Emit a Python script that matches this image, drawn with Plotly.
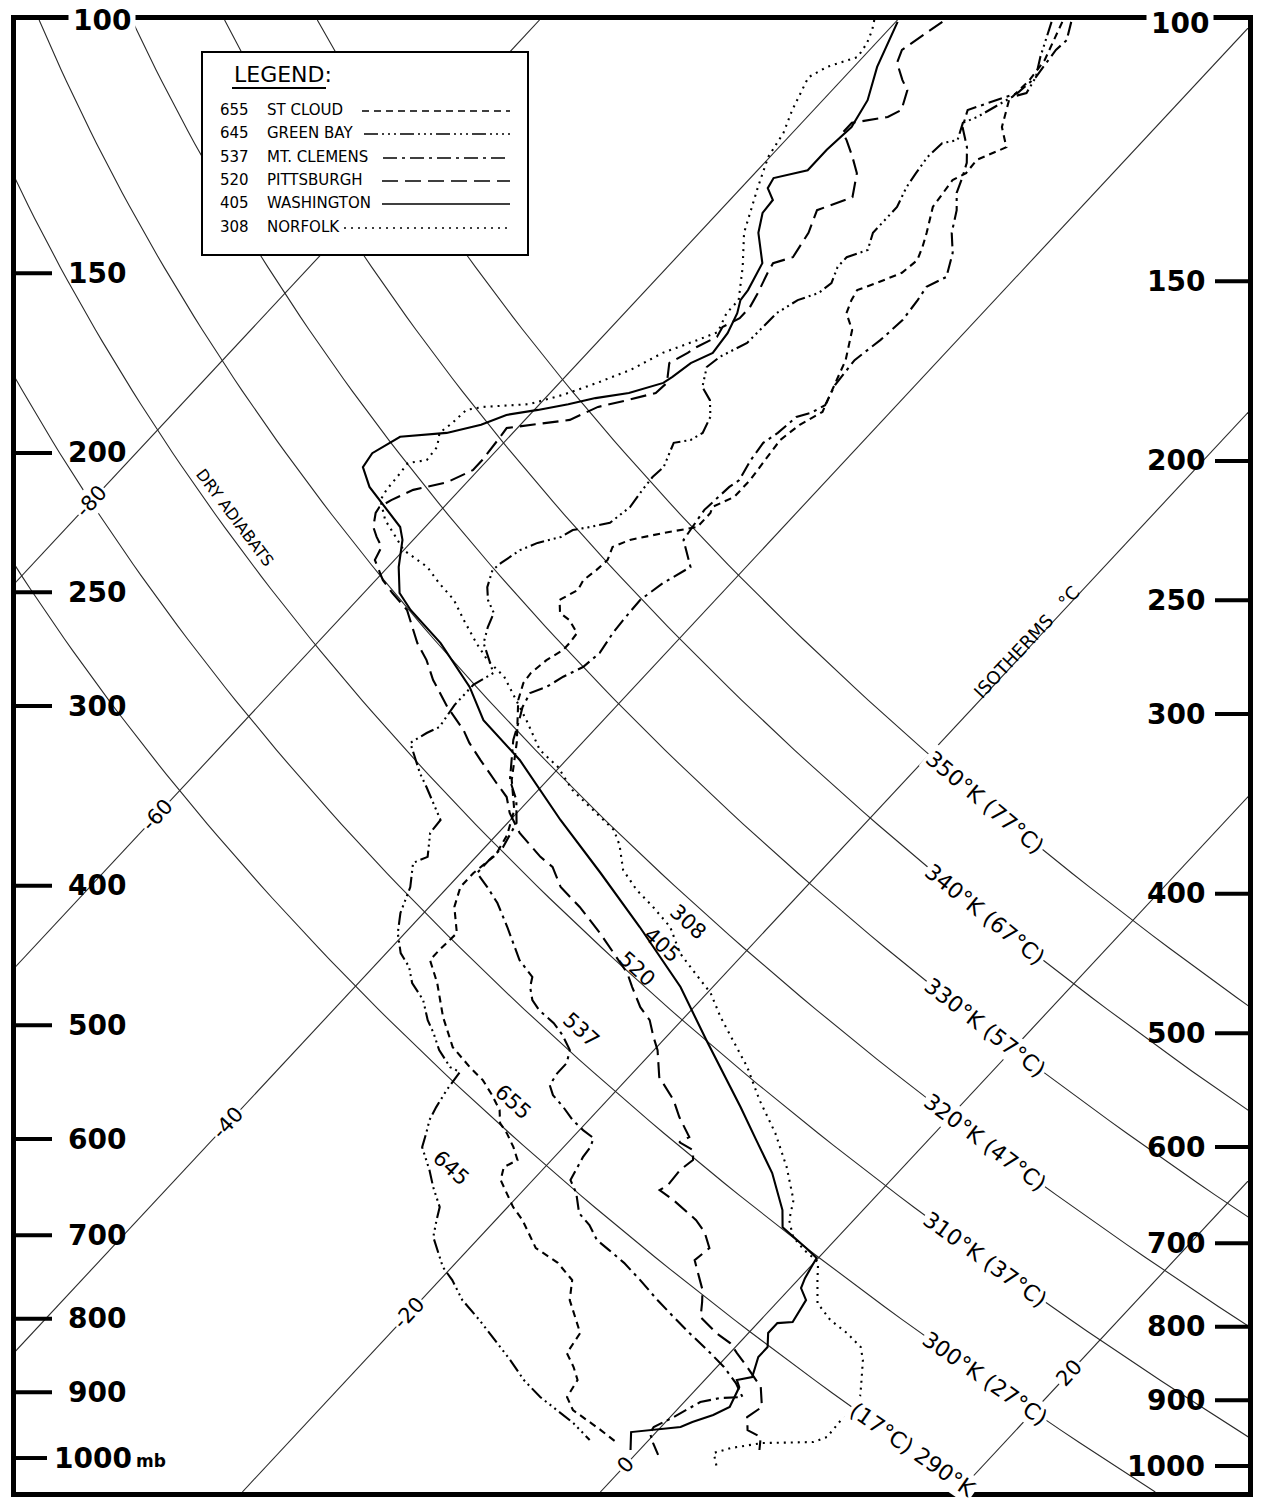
import numpy as np
import plotly.graph_objects as go

# ---------------- data (pressure in mb, temperature in deg C) ----------------
PRESSURE_TICKS = [100, 150, 200, 250, 300, 400, 500, 600, 700, 800, 900, 1000]
ISOTHERMS_C = [-80, -60, -40, -20, 0, 20]
ISOTHERM_LABEL_P = [216, 357, 585, 793, 1011, 873]
ADIABATS_K = [290, 300, 310, 320, 330, 340, 350]

STATION_CODES = ["655", "645", "537", "520", "405", "308"]
STATION_NAMES = ["ST CLOUD", "GREEN BAY", "MT. CLEMENS", "PITTSBURGH", "WASHINGTON", "NORFOLK"]

stcloud_p = [100.3, 103.3, 106.6, 110.1, 113.7, 118.7, 122.6, 125.1, 127.8, 129.2,
             134.9, 140.6, 143.8, 146.9, 149.9, 152.4, 154.1, 156.6, 159.9, 164.3,
             172.4, 180.8, 187.3, 191.2, 195.9, 202.3, 208.9, 214.6, 218.1, 220.2,
             225.2, 227.4, 229.9, 232.5, 237.4, 241.3, 245.2, 249.1, 253.1, 258.4,
             261.4, 266.9, 271.2, 274.2, 278.7, 284.5, 289.1, 297.1, 307.8, 317.7,
             337.7, 354.3, 368.7, 380.7, 391.9, 400.8, 413.8, 431.5, 443.4, 450.5,
             467.4, 493.6, 517.9, 534.8, 546.0, 559.3, 572.9, 584.9, 594.4, 607.9,
             620.6, 627.6, 640.8, 654.3, 669.1, 683.2, 714.5, 731.6, 752.1, 776.5,
             801.8, 818.6, 845.3, 864.4, 882.6, 907.0, 926.0, 941.0, 956.2, 976.3]
stcloud_t = [-50.7, -50.2, -49.7, -49.5, -49.6, -48.6, -47.3, -48.3, -48.2, -48.6,
             -48.3, -47.3, -46.8, -46.4, -46.6, -47.5, -48.2, -48.0, -47.6, -46.4,
             -45.2, -44.4, -43.8, -44.4, -44.7, -44.5, -44.3, -44.3, -45.0, -44.8,
             -44.8, -46.4, -47.9, -48.5, -48.1, -48.2, -48.4, -48.2, -48.7, -48.0,
             -47.1, -46.0, -45.9, -45.9, -46.3, -46.5, -46.4, -45.8, -44.7, -43.7,
             -42.0, -40.3, -39.4, -39.0, -39.3, -39.3, -38.6, -37.1, -37.2, -37.2,
             -35.6, -33.5, -31.4, -29.4, -28.0, -26.7, -25.5, -24.8, -23.9, -22.8,
             -21.9, -22.3, -21.8, -20.8, -19.7, -18.5, -16.3, -14.3, -12.6, -11.7,
             -10.3, -9.4, -9.1, -8.0, -7.1, -6.8, -5.8, -4.5, -3.2, -1.6]

greenbay_p = [100.3, 106.1, 109.6, 112.4, 113.1, 116.8, 117.9, 121.2, 121.8, 124.5,
              127.8, 130.7, 134.9, 138.4, 140.6, 144.5, 146.2, 148.5, 152.4, 154.8,
              156.6, 159.9, 167.7, 171.5, 174.3, 180.0, 183.8, 188.8, 193.7, 195.9,
              196.8, 200.1, 204.6, 207.9, 212.2, 218.1, 223.7, 225.2, 226.3, 228.8,
              231.0, 233.7, 238.6, 241.3, 248.0, 253.1, 258.4, 264.3, 271.2, 278.7,
              284.5, 290.0, 299.5, 310.2, 313.2, 318.2, 323.3, 333.9, 341.5, 348.7,
              360.0, 367.6, 381.9, 385.6, 400.8, 417.8, 431.5, 445.5, 455.6, 467.4,
              480.3, 496.0, 506.4, 520.4, 534.8, 539.0, 554.8, 570.1, 582.1, 594.4,
              607.9, 630.6, 648.1, 669.1, 683.2, 702.0, 736.6, 752.1, 776.5, 801.8,
              823.9, 854.8, 882.6, 907.0, 926.0, 945.5, 971.6]
greenbay_t = [-51.3, -50.1, -49.3, -49.0, -49.6, -50.5, -51.0, -50.4, -51.1, -51.2,
              -51.0, -50.8, -50.3, -50.3, -50.3, -49.7, -50.5, -50.5, -50.0, -50.2,
              -51.0, -51.5, -51.6, -52.4, -52.6, -51.8, -50.7, -49.8, -49.4, -49.7,
              -50.5, -50.2, -49.8, -49.9, -49.8, -49.6, -49.9, -50.8, -51.6, -51.9,
              -52.9, -53.5, -53.9, -54.0, -53.4, -52.7, -51.7, -51.3, -50.7, -49.5,
              -48.6, -49.1, -49.1, -48.8, -49.2, -49.6, -48.9, -47.5, -46.4, -45.4,
              -43.9, -43.8, -42.7, -43.2, -42.1, -41.3, -40.4, -39.2, -38.0, -37.0,
              -35.5, -34.2, -33.2, -32.0, -30.5, -29.7, -29.5, -29.2, -28.9, -28.4,
              -27.9, -26.3, -25.2, -23.8, -23.3, -22.6, -20.5, -19.3, -17.7, -15.7,
              -14.1, -11.9, -10.1, -8.3, -6.7, -5.1, -3.3]

mtclemens_p = [100.3, 103.3, 104.9, 109.6, 112.4, 113.7, 115.5, 118.7, 122.6, 125.7,
               128.6, 131.9, 135.6, 140.6, 145.2, 150.9, 153.3, 156.6, 161.7, 166.9,
               172.4, 179.4, 185.3, 187.6, 188.8, 193.7, 196.8, 202.3, 208.9, 211.2,
               219.1, 229.9, 240.1, 246.4, 250.3, 253.1, 261.4, 266.9, 275.5, 281.8,
               286.2, 290.9, 293.8, 300.4, 306.8, 316.7, 337.7, 348.7, 361.7, 375.9,
               383.8, 391.9, 400.8, 411.2, 427.3, 445.5, 450.5, 462.9, 470.4, 480.3,
               488.1, 498.4, 508.0, 520.4, 531.3, 540.1, 550.4, 559.3, 570.1, 582.1,
               591.5, 599.1, 607.9, 617.7, 627.6, 640.8, 654.3, 675.6, 688.7, 705.4,
               716.8, 731.6, 752.1, 776.5, 798.0, 818.6, 841.3, 864.4, 886.9, 907.0,
               908.4, 914.2, 936.5, 951.6, 960.8, 976.3, 995.1]
mtclemens_t = [-50.2, -49.5, -49.6, -49.3, -49.5, -50.3, -51.4, -50.8, -49.5, -48.7,
               -48.2, -47.7, -46.8, -45.9, -44.8, -43.9, -44.5, -44.3, -44.1, -44.3,
               -44.7, -44.5, -44.0, -44.4, -45.0, -45.2, -45.5, -45.3, -44.9, -45.1,
               -45.3, -44.9, -43.1, -43.8, -44.0, -44.2, -44.1, -44.0, -43.7, -43.9,
               -44.5, -44.9, -45.5, -45.2, -44.7, -44.0, -42.1, -40.7, -39.5, -39.0,
               -39.1, -39.1, -37.8, -36.4, -34.6, -32.7, -32.2, -30.6, -30.2, -29.4,
               -28.5, -27.0, -25.9, -24.7, -24.2, -24.2, -24.0, -23.3, -22.1, -20.9,
               -19.8, -18.8, -18.5, -18.4, -18.2, -17.9, -16.9, -15.7, -14.5, -13.3,
               -12.1, -10.6, -8.8, -6.8, -5.0, -3.3, -1.4, 0.4, 1.9, 3.0,
               1.8, 0.9, 0.2, -0.4, -0.3, 0.4, 1.3]

pittsburgh_p = [100.3, 102.1, 103.3, 104.9, 107.1, 110.1, 111.9, 115.5, 116.8, 117.4,
                117.9, 119.8, 121.2, 124.5, 127.8, 132.8, 135.6, 140.6, 146.2, 147.6,
                149.9, 154.8, 158.4, 161.2, 163.5, 166.1, 168.8, 170.4, 173.2, 178.8,
                181.7, 183.8, 185.8, 189.7, 191.2, 192.2, 194.9, 198.1, 202.3, 205.6,
                209.6, 212.2, 215.7, 218.1, 220.2, 225.2, 228.8, 232.5, 237.4, 245.2,
                250.3, 257.2, 271.2, 278.7, 287.7, 300.4, 311.7, 318.2, 327.0, 339.3,
                347.0, 356.0, 367.6, 381.9, 388.1, 400.8, 413.8, 431.5, 445.5, 460.0,
                470.4, 485.8, 496.0, 509.7, 520.4, 543.4, 563.8, 579.3, 598.2, 603.0,
                610.8, 620.6, 630.6, 646.0, 651.2, 661.7, 683.2, 696.5, 714.5, 728.4,
                749.7, 764.2, 779.0, 798.0, 818.6, 831.9, 845.3, 864.4, 892.6, 921.5,
                936.5, 956.2, 967.0, 987.2]
pittsburgh_t = [-57.4, -57.7, -57.9, -58.2, -57.8, -56.6, -55.8, -55.1, -55.5, -56.5,
                -57.2, -57.2, -56.6, -55.4, -54.3, -53.3, -54.6, -53.9, -53.5, -54.3,
                -54.1, -53.6, -53.3, -53.3, -53.8, -53.6, -54.2, -54.4, -54.9, -54.0,
                -54.1, -55.3, -56.6, -57.5, -59.3, -60.6, -60.5, -60.4, -60.3, -60.3,
                -61.1, -62.6, -63.3, -63.6, -63.5, -62.9, -62.2, -61.4, -61.1, -59.6,
                -58.4, -56.7, -54.4, -53.0, -51.6, -49.4, -47.3, -46.3, -44.8, -42.7,
                -41.4, -40.4, -38.8, -36.4, -35.2, -33.7, -31.6, -29.1, -27.3, -25.5,
                -24.5, -23.0, -21.8, -20.7, -19.8, -18.3, -16.3, -15.1, -13.5, -13.8,
                -12.6, -12.1, -12.3, -12.2, -12.4, -11.1, -8.8, -7.7, -6.6, -6.8,
                -5.6, -4.8, -4.2, -3.5, -1.8, -0.5, 0.4, 1.7, 3.5, 4.6,
                4.3, 5.0, 6.1, 6.7]

washington_p = [100.3, 102.1, 107.8, 113.7, 118.7, 123.1, 127.2, 128.8, 130.9, 133.4,
                136.2, 140.6, 147.6, 154.1, 156.6, 159.9, 165.1, 170.4, 173.2, 177.1,
                178.8, 181.7, 183.2, 185.0, 186.7, 188.2, 191.2, 193.7, 194.9, 200.1,
                204.6, 211.2, 220.2, 225.2, 229.9, 240.1, 250.3, 257.2, 271.2, 290.9,
                306.8, 327.0, 360.0, 391.9, 427.3, 470.4, 512.1, 570.1, 601.1, 633.6,
                672.3, 691.0, 714.5, 725.9, 749.7, 761.8, 776.5, 804.4, 805.7, 818.6,
                837.2, 850.7, 878.4, 882.6, 892.6, 921.5, 933.5, 944.0, 951.6, 956.2,
                959.3, 987.2]
washington_t = [-59.9, -59.6, -58.7, -57.5, -57.0, -57.2, -57.2, -58.7, -58.5, -57.6,
                -57.5, -56.7, -54.9, -54.3, -54.2, -53.7, -53.2, -53.0, -53.7, -54.0,
                -54.2, -55.6, -57.2, -58.4, -59.8, -61.3, -62.2, -63.7, -66.1, -66.8,
                -66.6, -65.2, -62.7, -61.4, -60.6, -59.4, -58.0, -56.5, -53.1, -49.2,
                -46.7, -42.6, -37.2, -32.2, -27.2, -21.8, -17.6, -12.2, -9.6, -7.0,
                -4.5, -3.6, -1.2, -0.1, 0.3, 0.6, 1.5, 1.9, 1.1, 1.1,
                1.8, 1.8, 2.5, 1.8, 2.3, 2.8, 2.3, 1.5, 1.1, -0.6,
                -1.4, -0.5]

norfolk_p = [100.0, 101.6, 103.8, 106.1, 107.8, 109.6, 115.5, 119.8, 124.5, 130.7,
             140.6, 148.5, 156.6, 159.9, 164.8, 166.9, 170.4, 175.1, 178.8, 182.3,
             185.0, 185.8, 186.7, 190.6, 193.7, 198.1, 202.3, 203.3, 206.6, 212.2,
             215.7, 222.7, 228.1, 233.7, 240.1, 246.4, 253.1, 261.4, 271.2, 278.7,
             286.2, 297.1, 306.8, 321.8, 330.7, 343.1, 354.3, 365.8, 374.7, 390.0,
             402.7, 413.8, 427.3, 445.5, 457.8, 475.0, 493.6, 512.1, 534.8, 563.8,
             594.4, 627.6, 661.7, 683.2, 702.0, 716.8, 730.7, 752.1, 780.3, 801.8,
             818.6, 837.2, 854.8, 892.6, 911.3, 930.5, 941.0, 967.0, 974.7, 976.3,
             984.1, 991.9, 1014.5]
norfolk_t = [-61.3, -60.9, -60.5, -60.3, -61.5, -62.0, -61.2, -60.5, -60.1, -59.1,
             -57.5, -55.8, -54.3, -54.3, -53.8, -54.5, -55.8, -56.7, -57.9, -59.2,
             -60.6, -63.0, -63.8, -63.9, -64.1, -63.5, -63.4, -64.3, -64.2, -64.1,
             -63.9, -62.6, -61.3, -60.0, -57.8, -56.3, -54.6, -53.0, -51.1, -49.6,
             -47.8, -45.9, -44.3, -42.0, -40.1, -38.1, -35.9, -33.7, -32.6, -31.1,
             -29.3, -27.5, -25.5, -23.6, -22.0, -19.8, -18.0, -16.1, -13.9, -11.5,
             -8.9, -6.5, -4.4, -3.6, -2.5, -1.2, 0.2, 1.1, 2.3, 3.9,
             5.5, 7.0, 7.8, 9.1, 9.7, 10.0, 9.7, 9.8, 9.3, 6.5,
             5.0, 4.3, 5.2]

# ---------------- diagram geometry / style ----------------
W, H = 1262, 1502
ML, MR, MT, MB = 16, 14, 20, 10
PW, PH = W - ML - MR, H - MT - MB
SKEW = 32.5          # deg C of horizontal shift per unit ln(p)
KAPPA = 0.2857
X_HALF = 34.41
P_TOP, P_BOT = 100.0, 1055.9
ADIABAT_SHIFT = -0.55
LOG_TOP, LOG_BOT = np.log10(P_TOP), np.log10(P_BOT)
GRID = "#2a2a2a"
INK = "black"
FONT = "DejaVu Sans"

DASHES = {"655": "7px,5px",
          "645": "14px,4px,2px,4px,2px,4px,2px,4px",
          "537": "14px,5px,3px,5px",
          "520": "16px,7px",
          "405": "solid",
          "308": "2px,5px"}
SOUNDINGS = [("655", stcloud_p, stcloud_t), ("645", greenbay_p, greenbay_t),
             ("537", mtclemens_p, mtclemens_t), ("520", pittsburgh_p, pittsburgh_t),
             ("405", washington_p, washington_t), ("308", norfolk_p, norfolk_t)]


def skewx(t, p):
    t = np.asarray(t, float)
    p = np.asarray(p, float)
    return t + SKEW * np.log(1000.0 / p)


def adiabat_x(theta, p):
    t = theta * (np.asarray(p, float) / 1000.0) ** KAPPA - 273.15
    return skewx(t, p) + ADIABAT_SHIFT


def px_x(X):
    return ML + (X + X_HALF) / (2 * X_HALF) * PW


def px_y(p):
    return MT + (np.log10(p) - LOG_TOP) / (LOG_BOT - LOG_TOP) * PH


def paper_x(px):
    return (px - ML) / PW


def paper_y(py):
    return 1 - (py - MT) / PH


XS = PW / (2 * X_HALF)                 # px per deg
YS = PH / np.log(P_BOT / P_TOP)        # px per ln p

fig = go.Figure()

# isotherms
for t in ISOTHERMS_C:
    pp = np.array([P_TOP, P_BOT])
    fig.add_trace(go.Scatter(x=skewx([t, t], pp), y=pp, mode="lines",
                             line=dict(color=GRID, width=1.1), hoverinfo="skip"))

# dry adiabats
pgrid = np.geomspace(P_TOP, P_BOT, 120)
for th in ADIABATS_K:
    fig.add_trace(go.Scatter(x=adiabat_x(th, pgrid), y=pgrid, mode="lines",
                             line=dict(color=GRID, width=1.1), hoverinfo="skip"))

# soundings
for code, p, t in SOUNDINGS:
    fig.add_trace(go.Scatter(x=skewx(t, p), y=p, mode="lines",
                             line=dict(color=INK, width=2.1, dash=DASHES[code]),
                             hoverinfo="skip"))

ann = []
shapes = []

# isotherm labels
iso_angle = -np.degrees(np.arctan2(YS, XS * SKEW))
for t, pl in zip(ISOTHERMS_C, ISOTHERM_LABEL_P):
    X = float(skewx(t, pl))
    ann.append(dict(x=paper_x(px_x(X)), y=paper_y(px_y(pl)), xref="paper", yref="paper",
                    text=f"{t}", showarrow=False, textangle=iso_angle,
                    font=dict(family=FONT, size=21, color=INK), bgcolor="white", borderpad=1,
                    xanchor="center", yanchor="middle"))


# adiabat labels
def solve_p(theta, xpix):
    lo, hi = P_TOP, 1200.0
    for _ in range(60):
        mid = np.sqrt(lo * hi)
        if px_x(adiabat_x(theta, mid)) < xpix:
            lo = mid
        else:
            hi = mid
    return np.sqrt(lo * hi)


for th in ADIABATS_K:
    tc = int(round(th - 273))
    if th == 290:
        txt, xc = f"({tc}°C) {th}°K", 912
    else:
        txt, xc = f"{th}°K ({tc}°C)", 985
    pl = solve_p(th, xc)
    tk = th * (pl / 1000.0) ** KAPPA
    ang = np.degrees(np.arctan2(YS, XS * (KAPPA * tk - SKEW)))
    ann.append(dict(x=paper_x(xc), y=paper_y(px_y(pl)), xref="paper", yref="paper",
                    text=txt, showarrow=False, textangle=ang,
                    font=dict(family=FONT, size=22, color=INK), bgcolor="white", borderpad=1,
                    xanchor="center", yanchor="middle"))

# descriptive labels
ann.append(dict(x=paper_x(235), y=paper_y(517), xref="paper", yref="paper", text="DRY ADIABATS",
                showarrow=False, textangle=53, xanchor="center", yanchor="middle",
                font=dict(family=FONT, size=16, color=INK)))
ann.append(dict(x=paper_x(1026), y=paper_y(642), xref="paper", yref="paper", text="ISOTHERMS   °C",
                showarrow=False, textangle=iso_angle, xanchor="center", yanchor="middle",
                font=dict(family=FONT, size=18, color=INK)))

# sounding labels
for code, (lx, ly) in zip(["308", "405", "520", "537", "655", "645"],
                          [(688, 922), (662, 945), (637, 969), (581, 1030), (513, 1102), (451, 1168)]):
    ann.append(dict(x=paper_x(lx), y=paper_y(ly), xref="paper", yref="paper", text=code,
                    showarrow=False, textangle=42, xanchor="center", yanchor="middle",
                    font=dict(family=FONT, size=21, color=INK)))

# pressure scale (inside the frame, both sides)
RSHIFT = 8
PFONT = dict(family=FONT, size=28, color=INK)
for p in PRESSURE_TICKS:
    yl = px_y(p)
    if p == 100:
        for xc, yc in ((102, 20), (1180, 24)):
            ann.append(dict(x=paper_x(xc), y=paper_y(yc), xref="paper", yref="paper",
                            text="<b>100</b>", showarrow=False, font=PFONT,
                            bgcolor="white", borderpad=4, xanchor="center", yanchor="middle"))
        continue
    left_end = 47 if p == 1000 else 52
    left_txt = 52 if p == 1000 else 66
    shapes.append(dict(type="line", xref="paper", yref="paper", x0=0, x1=paper_x(left_end),
                       y0=paper_y(yl), y1=paper_y(yl), line=dict(color=INK, width=4)))
    ann.append(dict(x=paper_x(left_txt), y=paper_y(yl), xref="paper", yref="paper",
                    text=f"<b>{p}</b>", showarrow=False, xanchor="left", yanchor="middle",
                    font=PFONT))
    yr = yl + RSHIFT
    shapes.append(dict(type="line", xref="paper", yref="paper", x0=paper_x(1215), x1=1,
                       y0=paper_y(yr), y1=paper_y(yr), line=dict(color=INK, width=4)))
    ann.append(dict(x=paper_x(1207), y=paper_y(yr), xref="paper", yref="paper",
                    text=f"<b>{p}</b>", showarrow=False, xanchor="right", yanchor="middle",
                    font=PFONT))
ann.append(dict(x=paper_x(134), y=paper_y(px_y(1000) + 3), xref="paper", yref="paper",
                text="<b>mb</b>", showarrow=False, xanchor="left", yanchor="middle",
                font=dict(family=FONT, size=17, color=INK)))

# legend box
LX0, LX1, LY0, LY1 = 202, 528, 52, 255
shapes.append(dict(type="rect", xref="paper", yref="paper", x0=paper_x(LX0), x1=paper_x(LX1),
                   y0=paper_y(LY1), y1=paper_y(LY0), line=dict(color=INK, width=2),
                   fillcolor="white", layer="above"))
ann.append(dict(x=paper_x(232), y=paper_y(75), xref="paper", yref="paper", text="LEGEND:",
                showarrow=False, xanchor="left", yanchor="middle",
                font=dict(family=FONT, size=22, color=INK)))
shapes.append(dict(type="line", xref="paper", yref="paper", x0=paper_x(232), x1=paper_x(326),
                   y0=paper_y(88), y1=paper_y(88), line=dict(color=INK, width=2), layer="above"))
row_y = [110, 133, 157, 180, 203, 227]
line_start = [362, 364, 383, 382, 382, 344]
for code, name, ry, xs in zip(STATION_CODES, STATION_NAMES, row_y, line_start):
    ann.append(dict(x=paper_x(218), y=paper_y(ry), xref="paper", yref="paper", text=code,
                    showarrow=False, xanchor="left", yanchor="middle",
                    font=dict(family=FONT, size=15, color=INK)))
    ann.append(dict(x=paper_x(265), y=paper_y(ry), xref="paper", yref="paper", text=name,
                    showarrow=False, xanchor="left", yanchor="middle",
                    font=dict(family=FONT, size=15, color=INK)))
    shapes.append(dict(type="line", xref="paper", yref="paper", x0=paper_x(xs), x1=paper_x(510),
                       y0=paper_y(ry + 1), y1=paper_y(ry + 1), layer="above",
                       line=dict(color=INK, width=1.6, dash=DASHES[code])))

fig.update_layout(
    width=W, height=H, margin=dict(l=ML, r=MR, t=MT, b=MB),
    paper_bgcolor="white", plot_bgcolor="white", showlegend=False,
    xaxis=dict(range=[-X_HALF, X_HALF], showgrid=False, zeroline=False, showticklabels=False,
               ticks="", showline=True, mirror=True, linecolor=INK, linewidth=5, fixedrange=True),
    yaxis=dict(type="log", range=[LOG_BOT, LOG_TOP], showgrid=False, zeroline=False,
               showticklabels=False, ticks="", showline=True, mirror=True, linecolor=INK,
               linewidth=5, fixedrange=True),
    annotations=ann, shapes=shapes,
)

fig.write_html("out.html", config={"displayModeBar": False, "staticPlot": True},
               post_script="document.body.style.margin='0px';document.body.style.overflow='hidden';")
